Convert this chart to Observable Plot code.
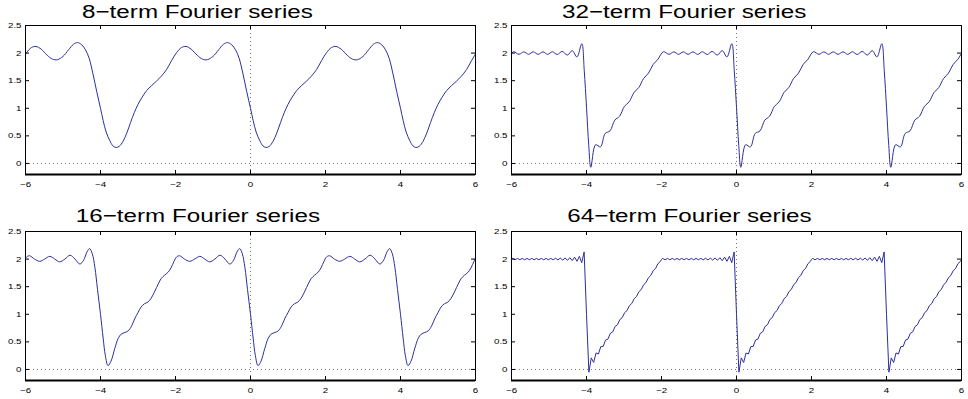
<!DOCTYPE html>
<html><head><meta charset="utf-8">
<script src="https://cdn.jsdelivr.net/npm/d3@7"></script>
<script src="https://cdn.jsdelivr.net/npm/@observablehq/plot@0.6"></script>
<style>
html,body{margin:0;padding:0;background:#fff;}
#root{position:relative;width:968px;height:399px;overflow:hidden;background:#fff;}
#root svg{position:absolute;}
</style></head><body><div id="root"></div>
<script>
// ---- data ----
const xTicks = [-6, -4, -2, 0, 2, 4, 6];
const yTicks = [0, 0.5, 1, 1.5, 2, 2.5];
const xDomain = [-6, 6];
const yDomain = [-0.2, 2.5];
const periodShifts = [-8, -4, 0, 4];   // the curves repeat with period 4
const titles = ["8−term Fourier series", "32−term Fourier series", "16−term Fourier series", "64−term Fourier series"];

// one period, x in [0,4)
const x8 = [0.00,0.07,0.15,0.25,0.33,0.41,0.50,0.60,0.70,0.80,0.90,1.00,1.10,1.23,1.36,1.49,1.62,1.76,1.90,2.03,2.16,2.28,2.42,2.58,2.72,2.85,3.00,3.15,3.28,3.39,3.50,3.60,3.70,3.80,3.90];
const y8 = [1.00,0.78,0.57,0.41,0.32,0.29,0.31,0.40,0.55,0.74,0.92,1.07,1.19,1.32,1.41,1.49,1.58,1.70,1.87,2.01,2.10,2.12,2.07,1.96,1.89,1.88,1.94,2.06,2.16,2.19,2.15,2.06,1.90,1.62,1.30];

const x16 = [0.00,0.07,0.13,0.20,0.28,0.38,0.47,0.55,0.65,0.74,0.83,0.92,1.00,1.08,1.17,1.26,1.35,1.45,1.54,1.62,1.71,1.80,1.88,1.96,2.03,2.11,2.24,2.38,2.51,2.65,2.78,2.91,3.05,3.19,3.32,3.45,3.55,3.64,3.71,3.78,3.85,3.92];
const y16 = [1.00,0.57,0.25,0.07,0.15,0.38,0.56,0.64,0.67,0.70,0.79,0.93,1.03,1.13,1.19,1.22,1.29,1.42,1.55,1.65,1.71,1.76,1.84,1.96,2.04,2.06,2.00,1.96,2.00,2.05,2.00,1.95,2.00,2.07,2.00,1.91,1.98,2.13,2.19,2.10,1.85,1.45];

const x32 = [0.000,0.060,0.115,0.243,0.371,0.499,0.627,0.755,0.883,1.011,1.139,1.267,1.395,1.523,1.651,1.779,1.907,2.050,2.200,2.330,2.455,2.580,2.710,2.840,2.965,3.090,3.220,3.350,3.490,3.620,3.745,3.875,3.940];
const y32 = [1.02,0.33,-0.07,0.34,0.30,0.545,0.590,0.785,0.857,1.034,1.118,1.286,1.377,1.540,1.635,1.795,1.890,2.025,1.978,2.022,1.978,2.022,1.978,2.022,1.977,2.024,1.975,2.030,1.965,2.045,1.930,2.170,1.680];

const x64 = [0.000,0.064,0.127,0.191,0.254,0.318,0.381,0.445,0.508,0.572,0.635,0.699,0.762,0.826,0.889,0.953,1.016,1.080,1.143,1.207,1.270,1.334,1.397,1.461,1.524,1.588,1.651,1.715,1.778,1.842,1.905,1.969,2.000,2.032,2.095,2.159,2.222,2.286,2.349,2.413,2.476,2.540,2.603,2.667,2.730,2.794,2.857,2.921,2.984,3.048,3.111,3.175,3.238,3.302,3.365,3.429,3.492,3.556,3.619,3.683,3.746,3.810,3.873,3.937];
const y64 = [1.000,-0.050,0.210,0.126,0.299,0.280,0.413,0.417,0.533,0.550,0.655,0.681,0.779,0.810,0.904,0.939,1.029,1.067,1.155,1.195,1.282,1.322,1.409,1.449,1.536,1.576,1.663,1.703,1.790,1.830,1.917,1.957,1.995,2.012,1.988,2.012,1.988,2.012,1.988,2.012,1.988,2.012,1.988,2.012,1.988,2.012,1.988,2.012,1.988,2.013,1.987,2.015,1.985,2.017,1.982,2.020,1.978,2.025,1.972,2.035,1.960,2.050,1.935,2.130];

// ---- styles / layout ----
const FONT = '"Liberation Sans", Arial, Helvetica, sans-serif';
const LINE = "#2d2f9a";
const STRETCH = 1.3;   // the reference is horizontally stretched

const panels = [
  {xs: x8,  ys: y8,  curve: "catmull-rom", left: 0,   top: 0,   width: 484, height: 199, ml: 25, mr: 9, mt: 25, mb: 25, title: titles[0], tx: 82,    ty: 18.3},
  {xs: x32, ys: y32, curve: "catmull-rom", left: 486, top: 0,   width: 482, height: 199, ml: 25, mr: 7, mt: 25, mb: 25, title: titles[1], tx: 562,   ty: 18.3},
  {xs: x16, ys: y16, curve: "catmull-rom", left: 0,   top: 206, width: 484, height: 193, ml: 25, mr: 9, mt: 25, mb: 19, title: titles[2], tx: 75.7,  ty: 221.7},
  {xs: x64, ys: y64, curve: "linear",      left: 486, top: 206, width: 482, height: 193, ml: 25, mr: 7, mt: 25, mb: 19, title: titles[3], tx: 567.3, ty: 221.7}
];

const root = document.getElementById("root");

for (const p of panels) {
  const pts = periodShifts.flatMap(s => p.xs.map((x, i) => ({x: x + s, y: p.ys[i]})));
  const innerH = p.height - p.mt - p.mb;
  const innerW = p.width - p.ml - p.mr;
  const tick = 4;
  const svg = Plot.plot({
    width: p.width, height: p.height,
    marginLeft: p.ml, marginRight: p.mr, marginTop: p.mt, marginBottom: p.mb,
    style: {fontFamily: FONT, fontSize: "7.5px", color: "#000", background: "transparent", overflow: "visible"},
    x: {domain: xDomain},
    y: {domain: yDomain},
    marks: [
      Plot.ruleY([0], {stroke: "#7a7a7a", strokeDasharray: "1,3"}),
      Plot.ruleX([0], {stroke: "#7a7a7a", strokeDasharray: "1,3"}),
      Plot.line(pts, {x: "x", y: "y", stroke: LINE, strokeWidth: 1, curve: p.curve, clip: true}),
      Plot.tickX(xTicks, {x: d => d, stroke: "#000", insetTop: innerH - tick}),
      Plot.tickX(xTicks, {x: d => d, stroke: "#000", insetBottom: innerH - tick}),
      Plot.tickY(yTicks, {y: d => d, stroke: "#000", insetRight: innerW - tick}),
      Plot.tickY(yTicks, {y: d => d, stroke: "#000", insetLeft: innerW - tick}),
      Plot.frame({stroke: "#000", strokeWidth: 1}),
      Plot.ruleY([yDomain[0]], {stroke: "#000", strokeWidth: 2}),
      Plot.axisX({ticks: xTicks, tickSize: 0, tickPadding: 7.5, label: null}),
      Plot.axisY({ticks: yTicks, tickSize: 0, tickPadding: 4, label: null, tickFormat: d => String(d)})
    ]
  });
  svg.style.left = p.left + "px";
  svg.style.top = p.top + "px";
  // stretch tick labels horizontally like the reference
  svg.querySelectorAll("text").forEach(t => {
    const x = +(t.getAttribute("x") || 0);
    const tr = t.getAttribute("transform") || "";
    t.setAttribute("transform", `${tr} translate(${x},0) scale(${STRETCH},1) translate(${-x},0)`);
  });
  root.appendChild(svg);
}

// titles overlay
const ns = "http://www.w3.org/2000/svg";
const tsvg = document.createElementNS(ns, "svg");
tsvg.setAttribute("width", 968);
tsvg.setAttribute("height", 399);
tsvg.style.left = "0px"; tsvg.style.top = "0px";
for (const p of panels) {
  const t = document.createElementNS(ns, "text");
  t.setAttribute("transform", `translate(${p.tx},${p.ty}) scale(1.31,1)`);
  t.setAttribute("font-family", FONT);
  t.setAttribute("font-size", "18.5");
  t.setAttribute("font-weight", "normal");
  t.setAttribute("fill", "#000");
  t.textContent = p.title;
  tsvg.appendChild(t);
}
root.appendChild(tsvg);
</script>
</body></html>
